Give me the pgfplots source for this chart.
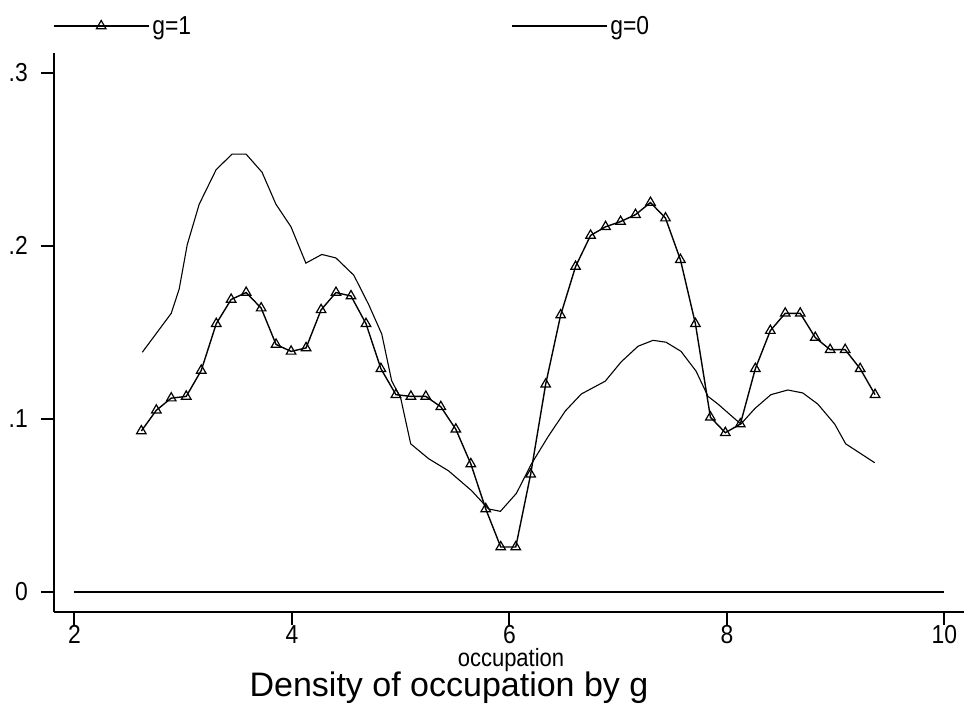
\documentclass[border=0pt]{standalone}
\usepackage{fontspec}
\setmainfont{Liberation Sans}[FakeStretch=0.88]
\newfontfamily\titlefont{Liberation Sans}
\usepackage{pgfplots}
\usepackage{pgfplotstable}
\pgfplotsset{compat=1.18}
\pgfplotstableread{
x y
2.615 0.093
2.753 0.105
2.890 0.112
3.028 0.113
3.166 0.128
3.304 0.155
3.441 0.169
3.579 0.173
3.717 0.164
3.854 0.143
3.992 0.139
4.130 0.141
4.268 0.163
4.405 0.173
4.543 0.171
4.681 0.155
4.818 0.129
4.956 0.114
5.094 0.113
5.231 0.113
5.369 0.107
5.507 0.094
5.645 0.074
5.782 0.048
5.920 0.026
6.058 0.026
6.195 0.068
6.333 0.120
6.471 0.160
6.608 0.188
6.746 0.206
6.884 0.211
7.022 0.214
7.159 0.218
7.297 0.225
7.435 0.216
7.572 0.192
7.710 0.155
7.848 0.101
7.985 0.092
8.123 0.097
8.261 0.129
8.399 0.151
8.536 0.161
8.674 0.161
8.812 0.147
8.949 0.140
9.087 0.140
9.225 0.129
9.362 0.114
}\gone
\pgfplotstableread{
x y
2.624 0.1385
2.890 0.161
2.963 0.175
3.037 0.2006
3.147 0.224
3.303 0.244
3.450 0.253
3.578 0.253
3.725 0.2425
3.853 0.224
3.991 0.211
4.128 0.190
4.275 0.195
4.404 0.193
4.569 0.183
4.706 0.166
4.826 0.149
4.917 0.122
5.000 0.112
5.092 0.0856
5.257 0.077
5.440 0.070
5.651 0.0586
5.807 0.048
5.917 0.0466
6.064 0.057
6.202 0.074
6.358 0.090
6.514 0.1046
6.661 0.1144
6.881 0.1218
7.028 0.133
7.183 0.142
7.321 0.1454
7.440 0.1443
7.578 0.139
7.716 0.1276
7.826 0.113
7.917 0.1086
8.128 0.097
8.257 0.106
8.404 0.114
8.560 0.1167
8.697 0.115
8.835 0.1086
8.991 0.097
9.092 0.0856
9.229 0.080
9.358 0.0747
}\gzero
\begin{document}
\begin{tikzpicture}[x=1bp,y=1bp]
\useasboundingbox (0,0) rectangle (964,711);
\begin{axis}[
  at={(54bp,99bp)}, anchor=south west,
  scale only axis, width=910bp, height=559bp,
  xmin=1.812, xmax=10.18, ymin=-0.01155, ymax=0.3114,
  axis x line*=bottom, axis y line*=left,
  axis line style={-, line width=2bp, black},
  xtick={2,4,6,8,10}, ytick={0,0.1,0.2,0.3}, yticklabels={0,.1,.2,.3},
  xtick pos=bottom, ytick pos=left,
  xtick align=outside, ytick align=outside,
  major tick length=13bp,
  every tick/.style={line width=2bp, black},
  minor tick num=0,
  /pgf/number format/assume math mode=true,
  ticklabel style={font=\fontsize{26bp}{30bp}\selectfont},
  xticklabel style={anchor=north, inner sep=0pt},
  yticklabel style={anchor=east, inner sep=0pt, xshift=-13bp},
  legend columns=2,
  legend image code/.code={\draw[mark repeat=2,mark phase=2,#1] plot coordinates {(0bp,0bp) (47.5bp,0bp) (95bp,0bp)};},
  legend style={draw=none, fill=none, inner sep=0pt, outer sep=0pt,
    at={(axis description cs:0,1)}, anchor=west, xshift=-1bp, yshift=27bp,
    nodes={inner sep=3bp, font=\fontsize{26bp}{30bp}\selectfont},
    /tikz/every even column/.append style={column sep=317bp}},
]
\addplot[black, line width=2.2bp, forget plot] coordinates {(2,0) (10,0)};
\addplot[black, line width=1.4bp, mark=triangle, mark size=5.5bp, mark options={line width=1.2bp, fill=none}] table[x=x,y=y] {\gone};
\addlegendentry{g=1}
\addplot[black, line width=1.1bp, no marks] table[x=x,y=y] {\gzero};
\addlegendentry{g=0}
\end{axis}
\node[anchor=base, inner sep=0pt] at (511,44) {\fontsize{25bp}{30bp}\selectfont occupation};
\node[anchor=base, inner sep=0pt] at (449,14) {\titlefont\fontsize{34bp}{40bp}\selectfont Density of occupation by g};
\end{tikzpicture}
\end{document}
